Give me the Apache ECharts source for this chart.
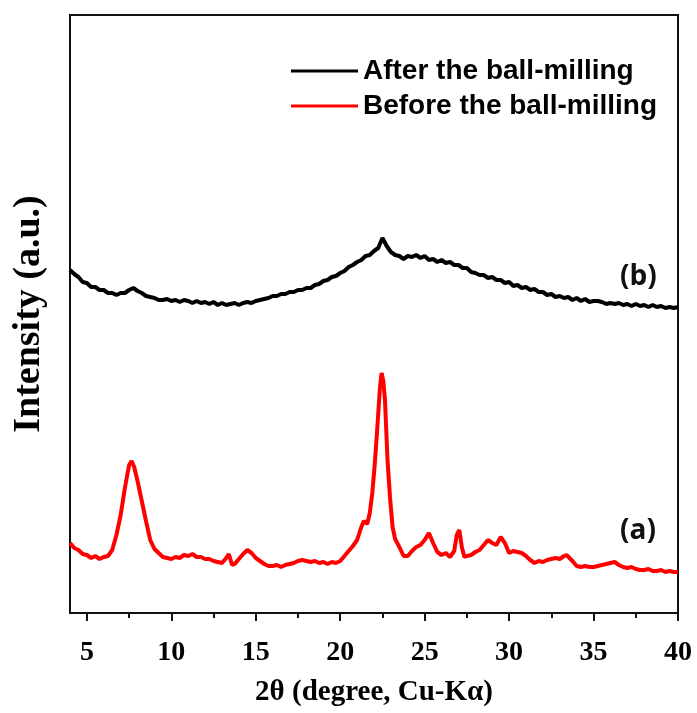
<!DOCTYPE html>
<html>
<head>
<meta charset="utf-8">
<script src="https://cdn.jsdelivr.net/npm/echarts@6/dist/echarts.min.js"></script>
<style>html,body{margin:0;padding:0;background:#fff}#c{width:697px;height:713px}</style>
</head>
<body>
<div id="c"></div>
<script>
// 2θ grid and intensities (arbitrary units) for the ball-milled sample (b)
var afterX = [4.00,4.25,4.50,4.75,5.00,5.25,5.50,5.75,6.00,6.25,6.50,6.75,7.00,7.25,7.50,7.75,8.00,8.25,8.50,8.75,9.00,9.25,9.50,9.75,10.00,10.25,10.50,10.75,11.00,11.25,11.50,11.75,12.00,12.25,12.50,12.75,13.00,13.25,13.50,13.75,14.00,14.25,14.50,14.75,15.00,15.25,15.50,15.75,16.00,16.25,16.50,16.75,17.00,17.25,17.50,17.75,18.00,18.25,18.50,18.75,19.00,19.25,19.50,19.75,20.00,20.25,20.50,20.75,21.00,21.25,21.50,21.75,22.00,22.25,22.50,22.75,23.00,23.25,23.50,23.75,24.00,24.25,24.50,24.75,25.00,25.25,25.50,25.75,26.00,26.25,26.50,26.75,27.00,27.25,27.50,27.75,28.00,28.25,28.50,28.75,29.00,29.25,29.50,29.75,30.00,30.25,30.50,30.75,31.00,31.25,31.50,31.75,32.00,32.25,32.50,32.75,33.00,33.25,33.50,33.75,34.00,34.25,34.50,34.75,35.00,35.25,35.50,35.75,36.00,36.25,36.50,36.75,37.00,37.25,37.50,37.75,38.00,38.25,38.50,38.75,39.00,39.25,39.50,39.75,40.00];
var afterY = [343,339,336,331,330,326,326,323,323,320,320,318,320,320,323,325,322,320,317,316,315,313,313,314,312,313,311,313,312,310,312,310,311,309,311,308,310,308,309,310,308,310,311,310,312,313,314,315,317,317,319,319,321,321,323,323,325,325,328,329,332,333,336,337,340,342,346,348,351,353,357,358,362,365,375,367,361,358,357,354,357,356,358,355,357,353,354,351,353,350,351,348,348,345,345,341,340,338,338,335,336,333,333,330,331,327,328,325,326,323,324,321,321,318,319,316,317,315,316,313,315,312,314,311,312,312,311,309,310,309,310,308,309,307,309,307,308,306,308,306,307,305,306,305,306];
// 2θ grid and intensities for the sample before ball-milling (a)
var beforeX = [4.00,4.25,4.50,4.75,5.00,5.25,5.50,5.75,6.00,6.25,6.50,6.75,7.00,7.25,7.50,7.65,7.80,8.00,8.25,8.50,8.75,9.00,9.25,9.50,9.75,10.00,10.25,10.50,10.75,11.00,11.25,11.50,11.75,12.00,12.25,12.50,12.75,13.00,13.25,13.40,13.60,13.75,14.00,14.25,14.50,14.75,15.00,15.25,15.50,15.75,16.00,16.25,16.50,16.75,17.00,17.25,17.50,17.75,18.00,18.25,18.50,18.75,19.00,19.25,19.50,19.75,20.00,20.25,20.50,20.75,21.00,21.25,21.40,21.60,21.75,21.90,22.05,22.20,22.35,22.45,22.55,22.65,22.80,22.95,23.10,23.25,23.50,23.75,24.00,24.25,24.50,24.75,25.00,25.25,25.50,25.75,26.00,26.25,26.50,26.75,26.90,27.05,27.20,27.35,27.50,27.75,28.00,28.25,28.50,28.75,29.00,29.25,29.50,29.60,29.75,30.00,30.25,30.50,30.75,31.00,31.25,31.50,31.75,32.00,32.25,32.50,32.75,33.00,33.25,33.40,33.75,34.00,34.25,34.50,34.75,35.00,35.25,35.50,35.75,36.00,36.25,36.50,36.75,37.00,37.25,37.50,37.75,38.00,38.25,38.50,38.75,39.00,39.25,39.50,39.75,40.00];
var beforeY = [70,65,63,59,58,55,57,54,56,57,63,78,98,125,148,152,146,132,112,92,73,64,60,56,55,54,56,55,58,57,59,56,56,54,54,52,51,50,55,59,48,49,54,59,63,60,55,52,49,47,47,48,46,48,49,50,52,53,52,51,52,50,51,49,51,50,52,57,62,67,73,86,92,89,100,120,150,186,225,240,232,213,153,115,86,74,66,57,57,62,66,68,73,80,70,61,58,60,56,62,78,83,66,56,57,58,61,63,68,73,70,68,76,78,70,60,62,61,60,57,53,50,52,51,53,54,55,54,57,58,52,47,46,47,46,46,47,48,49,50,51,48,46,45,46,44,43,43,44,42,42,43,41,42,41,41];
var majorTicks = [5,10,15,20,25,30,35,40];
var minorTicks = [7.5,12.5,17.5,22.5,27.5,32.5,37.5];
var seriesNames = ['After the ball-milling','Before the ball-milling'];
var sampleTags = ['(b)','(a)'];

function pairs(xs, ys){ return xs.map(function(x,i){ return [x, ys[i]]; }); }

var chart = echarts.init(document.getElementById('c'), null, {renderer:'canvas'});
var serif = '"Liberation Serif","Times New Roman",serif';
var sans = '"Liberation Sans",Arial,sans-serif';
chart.setOption({
  animation:false,
  backgroundColor:'#fff',
  grid:{left:70, right:19, top:15, bottom:100, show:true, borderColor:'#111', borderWidth:2, backgroundColor:'transparent'},
  legend:{
    orient:'vertical', left:286, top:52, itemWidth:67, itemHeight:3, itemGap:7, icon:'rect',
    textStyle:{fontFamily:sans, fontWeight:'bold', fontSize:28, color:'#000', padding:[0,0,0,0]},
    data:seriesNames
  },
  xAxis:[{
    type:'value', min:4, max:40,
    axisLine:{show:true, lineStyle:{color:'#111', width:2}},
    axisTick:{show:true, inside:false, length:8, customValues:majorTicks, lineStyle:{color:'#111', width:2}},
    axisLabel:{show:true, margin:26, customValues:majorTicks, fontFamily:serif, fontWeight:'bold', fontSize:28, color:'#000'},
    splitLine:{show:false},
    name:'2θ (degree, Cu-Kα)', nameLocation:'middle', nameGap:65,
    nameTextStyle:{fontFamily:serif, fontWeight:'bold', fontSize:29, color:'#000'}
  },{
    type:'value', min:4, max:40, position:'bottom',
    axisLine:{show:false},
    axisTick:{show:true, length:5, customValues:minorTicks, lineStyle:{color:'#111', width:2}},
    axisLabel:{show:false}, splitLine:{show:false}
  }],
  yAxis:{
    type:'value', min:0, max:598,
    axisLine:{show:true, lineStyle:{color:'#111', width:2}},
    axisTick:{show:false}, axisLabel:{show:false}, splitLine:{show:false},
    name:'Intensity (a.u.)', nameLocation:'middle', nameGap:22,
    nameTextStyle:{fontFamily:serif, fontWeight:'bold', fontSize:38, color:'#000'}
  },
  series:[{
    name:seriesNames[0], type:'line', xAxisIndex:0, data:pairs(afterX, afterY),
    showSymbol:false, symbol:'none', color:'#000', lineStyle:{color:'#000', width:4}
  },{
    name:seriesNames[1], type:'line', xAxisIndex:0, data:pairs(beforeX, beforeY),
    showSymbol:false, symbol:'none', color:'#ff0000', lineStyle:{color:'#ff0000', width:4}
  }],
  graphic:[
    {type:'text', left:620, top:263, style:{text:sampleTags[0], font:'bold 28px "Open Sans", sans-serif', fill:'#111'}},
    {type:'text', left:620, top:517, style:{text:sampleTags[1], font:'bold 28px "Open Sans", sans-serif', fill:'#111'}}
  ]
});
</script>
</body>
</html>
